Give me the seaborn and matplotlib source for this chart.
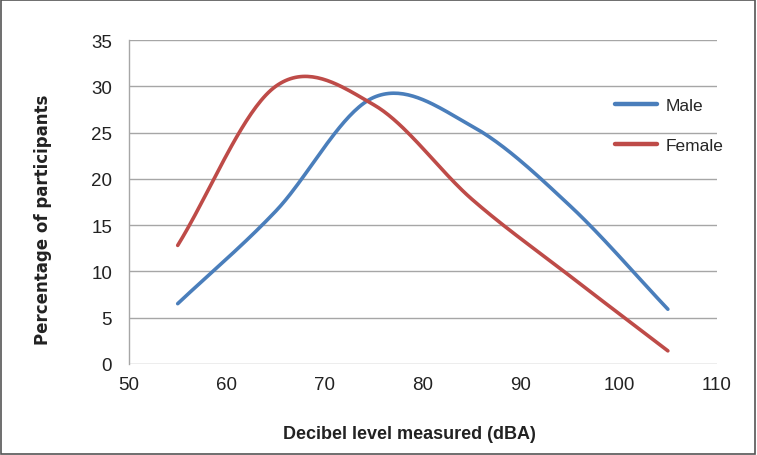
import numpy as np
import pandas as pd
import matplotlib
matplotlib.use("Agg")
import matplotlib.pyplot as plt
import seaborn as sns
from matplotlib.patches import Rectangle

# ---- data ----
decibels = [55, 65, 75, 85, 95, 105]
male = [6.5, 16.5, 28.8, 25.7, 17.1, 5.9]
female = [12.8, 30.0, 28.0, 17.8, 9.5, 1.4]
x_ticks = [50, 60, 70, 80, 90, 100, 110]
y_ticks = [0, 5, 10, 15, 20, 25, 30, 35]

def smooth(xs, ys, n=40):
    xs = np.asarray(xs, float); ys = np.asarray(ys, float)
    px = np.concatenate([[2*xs[0]-xs[1]], xs, [2*xs[-1]-xs[-2]]])
    py = np.concatenate([[2*ys[0]-ys[1]], ys, [2*ys[-1]-ys[-2]]])
    ox, oy = [], []
    for i in range(1, len(px)-2):
        t = np.linspace(0, 1, n, endpoint=(i == len(px)-3))
        m0x = (px[i+1]-px[i-1])/2; m1x = (px[i+2]-px[i])/2
        m0y = (py[i+1]-py[i-1])/2; m1y = (py[i+2]-py[i])/2
        h00 = 2*t**3-3*t**2+1; h10 = t**3-2*t**2+t
        h01 = -2*t**3+3*t**2; h11 = t**3-t**2
        ox.append(h00*px[i]+h10*m0x+h01*px[i+1]+h11*m1x)
        oy.append(h00*py[i]+h10*m0y+h01*py[i+1]+h11*m1y)
    return np.concatenate(ox), np.concatenate(oy)

rows = []
for name, vals in [("Male", male), ("Female", female)]:
    sx, sy = smooth(decibels, vals)
    rows.append(pd.DataFrame({"dB": sx, "pct": sy, "series": name}))
df = pd.concat(rows, ignore_index=True)

sns.set_theme(style="white")
plt.rcParams['font.family'] = ['Liberation Sans', 'DejaVu Sans']

fig = plt.figure(figsize=(7.57, 4.56), dpi=100)
ax = fig.add_axes([0.170, 0.200, 0.777, 0.710])

sns.lineplot(data=df, x="dB", y="pct", hue="series", sort=False,
             palette={"Male": "#4A7EBB", "Female": "#BE4B48"},
             linewidth=2.6, ax=ax, estimator=None)

ax.set_xlim(50, 110)
ax.set_ylim(0, 35)
ax.set_xticks(x_ticks)
ax.set_yticks(y_ticks)
ax.tick_params(axis='both', length=0, labelsize=13.5, colors="#222222")
ax.tick_params(axis='x', pad=9)
ax.tick_params(axis='y', pad=12)
ax.yaxis.grid(True, color="#A6A6A6", linewidth=1.0)
ax.xaxis.grid(False)
for s in ["top", "right", "bottom"]:
    ax.spines[s].set_visible(False)
ax.spines["left"].set_color("#A6A6A6")
ax.spines["left"].set_linewidth(1.0)

ax.set_xlabel("Decibel level measured (dBA)", fontsize=13, fontweight="bold",
              color="#222222")
ax.xaxis.set_label_coords(0.478, -0.19)
ax.set_ylabel("Percentage of participants", fontsize=12, fontweight="bold",
              color="#222222", family=['DejaVu Sans'])
ax.yaxis.set_label_coords(-0.13, 0.447)

leg = ax.legend(loc="upper left", bbox_to_anchor=(0.80, 0.87), frameon=False,
                fontsize=12.5, handlelength=2.4, labelspacing=1.45, handletextpad=0.5)
for line in leg.get_lines():
    line.set_linewidth(3.2)

fig.patches.append(Rectangle((0.001, 0.002), 0.997, 0.995, transform=fig.transFigure,
                             fill=False, edgecolor="#555555", linewidth=1.2))

fig.savefig("out.png", dpi=100)
